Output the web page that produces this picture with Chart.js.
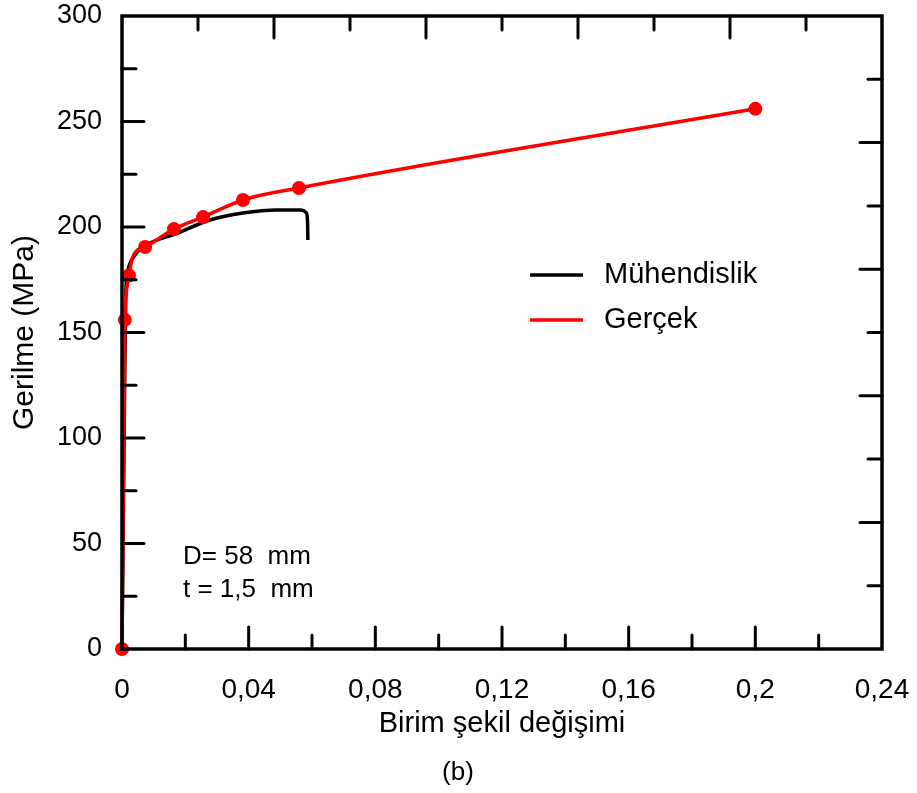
<!DOCTYPE html>
<html>
<head>
<meta charset="utf-8">
<script src="https://cdn.jsdelivr.net/npm/chart.js@4.4.1/dist/chart.umd.min.js"></script>
<style>
  html, body { margin: 0; padding: 0; background: #fff; }
  #wrap { width: 917px; height: 793px; }
</style>
</head>
<body>
<div id="wrap"><canvas id="chart" width="917" height="793"></canvas></div>
<script>
// Engineering curve (black)
const muhStrain = [0, 0.0004, 0.0008, 0.0012, 0.0019, 0.0041, 0.0066, 0.0174, 0.0278, 0.0382, 0.049, 0.0565, 0.0582, 0.0586, 0.0587];
const muhStress = [0, 60, 120, 168, 179.6, 186.7, 190.5, 197, 203.3, 206.6, 208, 208, 206.8, 202.4, 193.8];

// True curve (red) and which points get a marker
const gercekStrain = [0, 0.0009, 0.0013, 0.0022, 0.0032, 0.0048, 0.0073, 0.0164, 0.0256, 0.0382, 0.0559, 0.2];
const gercekStress = [0, 156, 168, 177, 185, 189, 190.5, 199, 204.7, 212.8, 218.5, 256];
const gercekMarked = [true, true, false, true, false, false, true, true, true, true, true, true];

const seriesNames = ['Mühendislik', 'Gerçek'];
const seriesColors = ['#000000', '#ff0000'];
const noteLines = ['D= 58  mm', 't = 1,5  mm'];
const panelLabel = '(b)';

const FONT = '"Liberation Sans", Arial, sans-serif';

function toPoints(xs, ys) {
  return xs.map((x, i) => ({ x: x, y: ys[i] }));
}

function fmtComma(v) {
  return parseFloat(v.toFixed(3)).toString().replace('.', ',');
}

// frame, inward ticks on all four sides, legend and notes
const decorations = {
  id: 'decorations',
  afterDatasetsDraw(chart) {
    const { ctx, chartArea: a, scales } = chart;
    const xs = scales.x, ys = scales.y;
    ctx.save();
    ctx.strokeStyle = '#000';
    ctx.lineCap = 'round';
    ctx.lineWidth = 3;

    // bottom: every 0.02, long every 0.04
    for (let i = 1; i < 12; i++) {
      const px = xs.getPixelForValue(i * 0.02);
      const len = i % 2 === 0 ? 22 : 14;
      ctx.beginPath(); ctx.moveTo(px, a.bottom); ctx.lineTo(px, a.bottom - len); ctx.stroke();
    }
    // top: every 0.024, long every 0.048
    for (let i = 1; i < 10; i++) {
      const px = xs.getPixelForValue(i * 0.024);
      const len = i % 2 === 0 ? 22 : 14;
      ctx.beginPath(); ctx.moveTo(px, a.top); ctx.lineTo(px, a.top + len); ctx.stroke();
    }
    // left: every 25, long every 50
    for (let i = 1; i < 12; i++) {
      const py = ys.getPixelForValue(i * 25);
      const len = i % 2 === 0 ? 22 : 14;
      ctx.beginPath(); ctx.moveTo(a.left, py); ctx.lineTo(a.left + len, py); ctx.stroke();
    }
    // right: every 30, long every 60
    for (let i = 1; i < 10; i++) {
      const py = ys.getPixelForValue(i * 30);
      const len = i % 2 === 0 ? 22 : 14;
      ctx.beginPath(); ctx.moveTo(a.right, py); ctx.lineTo(a.right - len, py); ctx.stroke();
    }

    // frame
    ctx.lineCap = 'butt';
    ctx.lineWidth = 3.5;
    ctx.strokeRect(a.left, a.top, a.right - a.left, a.bottom - a.top);

    // legend
    ctx.font = '29px ' + FONT;
    ctx.textBaseline = 'middle';
    ctx.textAlign = 'left';
    seriesNames.forEach((name, i) => {
      const y = a.top + 259 + i * 45;
      ctx.strokeStyle = seriesColors[i];
      ctx.lineWidth = 3.5;
      ctx.beginPath(); ctx.moveTo(a.left + 408, y); ctx.lineTo(a.left + 461, y); ctx.stroke();
      ctx.fillStyle = '#000';
      ctx.fillText(name, a.left + 482, y);
    });

    // specimen notes
    ctx.font = '26px ' + FONT;
    noteLines.forEach((t, i) => {
      ctx.fillText(t, a.left + 61, a.top + 541 + i * 33);
    });

    // panel label
    ctx.font = '26px ' + FONT;
    ctx.textAlign = 'center';
    ctx.fillText(panelLabel, 458, 773);
    ctx.restore();
  }
};

new Chart(document.getElementById('chart'), {
  type: 'line',
  data: {
    datasets: [
      {
        label: seriesNames[0],
        data: toPoints(muhStrain, muhStress),
        borderColor: seriesColors[0],
        borderWidth: 3.5,
        pointRadius: 0,
        cubicInterpolationMode: 'monotone',
        clip: false,
        order: 2
      },
      {
        label: seriesNames[1],
        data: toPoints(gercekStrain, gercekStress),
        borderColor: seriesColors[1],
        backgroundColor: seriesColors[1],
        borderWidth: 3.5,
        pointRadius: c => gercekMarked[c.dataIndex] ? 7 : 0,
        pointBorderWidth: 0,
        cubicInterpolationMode: 'monotone',
        clip: false,
        order: 1
      }
    ]
  },
  options: {
    responsive: false,
    animation: false,
    layout: { padding: { top: 16, right: 35, left: 0, bottom: 0 } },
    plugins: {
      legend: { display: false },
      tooltip: { enabled: false }
    },
    scales: {
      x: {
        type: 'linear',
        min: 0,
        max: 0.24,
        grid: { display: false, drawTicks: false },
        border: { display: false },
        ticks: {
          stepSize: 0.04,
          padding: 24,
          color: '#000',
          font: { family: FONT, size: 28 },
          maxRotation: 0,
          callback: v => fmtComma(v)
        },
        title: {
          display: true,
          text: 'Birim şekil değişimi',
          color: '#000',
          font: { family: FONT, size: 29 },
          padding: { top: 0, bottom: 52 }
        },
        afterFit: s => {
          s.height = 144;
          s.paddingLeft = 0;
          s.paddingRight = 0;
        }
      },
      y: {
        type: 'linear',
        min: 0,
        max: 300,
        grid: { display: false, drawTicks: false },
        border: { display: false },
        ticks: {
          stepSize: 50,
          padding: 20,
          color: '#000',
          font: { family: FONT, size: 27 }
        },
        title: {
          display: true,
          text: 'Gerilme (MPa)',
          color: '#000',
          font: { family: FONT, size: 30 },
          padding: { top: 7, bottom: 0 }
        },
        afterFit: s => {
          s.width = 122;
          s.paddingTop = 0;
          s.paddingBottom = 0;
        }
      }
    }
  },
  plugins: [decorations]
});
</script>
</body>
</html>
